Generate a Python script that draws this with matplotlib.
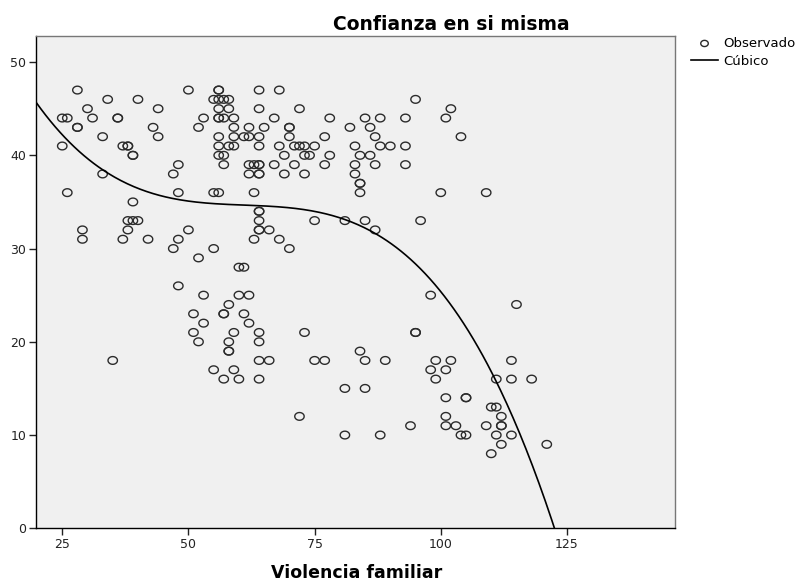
import numpy as np
import matplotlib
matplotlib.use("Agg")
import matplotlib.pyplot as plt

plt.rcParams['font.family'] = ['DejaVu Sans']

# observed scores (x: Violencia familiar, y: Confianza en si misma)
violencia = [28, 50, 56, 56, 64, 68,
             34, 40, 55, 56, 57, 58, 95,
             30, 44, 56, 58, 64, 72, 102,
             25, 26, 31, 36, 36, 53, 56, 56, 57, 59, 67, 78, 85, 88, 93, 101,
             28, 28, 43, 52, 59, 62, 65, 70, 70, 82, 86,
             33, 44, 56, 59, 61, 62, 64, 70, 77, 87, 104,
             25, 37, 38, 38, 56, 58, 59, 64, 68, 71, 72, 73, 75, 83, 88, 90, 93,
             39, 39, 56, 57, 69, 73, 74, 78, 84, 86,
             48, 57, 62, 63, 64, 64, 67, 71, 77, 83, 87, 93,
             33, 47, 62, 64, 64, 69, 73, 83,
             84, 84,
             26, 48, 55, 56, 63, 84, 100, 109,
             39,
             64, 64,
             38, 39, 40, 64, 75, 81, 85, 96,
             29, 38, 50, 64, 64, 66, 87,
             29, 37, 42, 48, 63, 68,
             47, 55, 70,
             52,
             60, 61,
             48,
             53, 60, 62, 98,
             58, 115,
             51, 57, 57, 61,
             53, 62,
             51, 59, 64, 73, 95, 95,
             52, 58, 64,
             58, 58, 84,
             35, 64, 66, 75, 77, 85, 89, 99, 102, 114,
             55, 59, 98, 101,
             57, 60, 64, 99, 111, 114, 118,
             81, 85,
             101, 105, 105,
             110, 111,
             72, 101, 112,
             94, 101, 103, 109, 112, 112,
             81, 88, 104, 105, 111, 114,
             112, 121,
             110]

confianza = ([47] * 6 + [46] * 7 + [45] * 7 + [44] * 16 + [43] * 11 + [42] * 11
             + [41] * 17 + [40] * 10 + [39] * 12 + [38] * 8 + [37] * 2 + [36] * 8
             + [35] * 1 + [34] * 2 + [33] * 8 + [32] * 7 + [31] * 6 + [30] * 3
             + [29] * 1 + [28] * 2 + [26] * 1 + [25] * 4 + [24] * 2 + [23] * 4
             + [22] * 2 + [21] * 6 + [20] * 3 + [19] * 3 + [18] * 10 + [17] * 4
             + [16] * 7 + [15] * 2 + [14] * 3 + [13] * 2 + [12] * 3 + [11] * 6
             + [10] * 6 + [9] * 2 + [8] * 1)

x_ticks = [25, 50, 75, 100, 125]
y_ticks = [0, 10, 20, 30, 40, 50]

x = np.array(violencia, dtype=float)
y = np.array(confianza, dtype=float)

# cubic regression fitted to the observed points
coef = np.polyfit(x, y, 3)
xs = np.linspace(19.8, 146.4, 400)
ys = np.polyval(coef, xs)

# slightly wide open circle, like the SPSS export
t = np.linspace(0, 2 * np.pi, 60)
ring = np.column_stack([np.cos(t), 0.82 * np.sin(t)])

fig = plt.figure(figsize=(8.02, 5.86), dpi=100)
ax = fig.add_axes([0.0449, 0.0985, 0.7967, 0.8401])
ax.set_facecolor('#f0f0f0')

sc = ax.scatter(x, y, s=46, marker=ring, facecolors='none', edgecolors='#2b2b2b',
                linewidths=1.0, label='Observado', zorder=3)
ln, = ax.plot(xs, ys, color='black', lw=1.2, label='Cúbico', zorder=4)

ax.set_xlim(19.8, 146.4)
ax.set_ylim(0, 52.8)
ax.set_xticks(x_ticks)
ax.set_yticks(y_ticks)
ax.tick_params(direction='out', length=5, width=1, labelsize=9, colors='#222222', pad=2)

for side in ['left', 'bottom']:
    ax.spines[side].set_color('black')
    ax.spines[side].set_linewidth(1.0)
for side in ['top', 'right']:
    ax.spines[side].set_color('#777777')
    ax.spines[side].set_linewidth(1.0)

fig.text(0.563, 0.958, 'Confianza en si misma', ha='center', va='center',
         fontsize=13.5, fontweight='bold')
fig.text(0.445, 0.022, 'Violencia familiar', ha='center', va='center',
         fontsize=12.5, fontweight='bold')

fig.legend(handles=[sc, ln], loc='upper left', bbox_to_anchor=(0.862, 0.937),
           frameon=False, fontsize=9.5, handlelength=2.0, handletextpad=0.4,
           labelspacing=0.35, borderaxespad=0, borderpad=0, markerscale=0.8)

fig.savefig('out.png', dpi=100)
plt.close(fig)
